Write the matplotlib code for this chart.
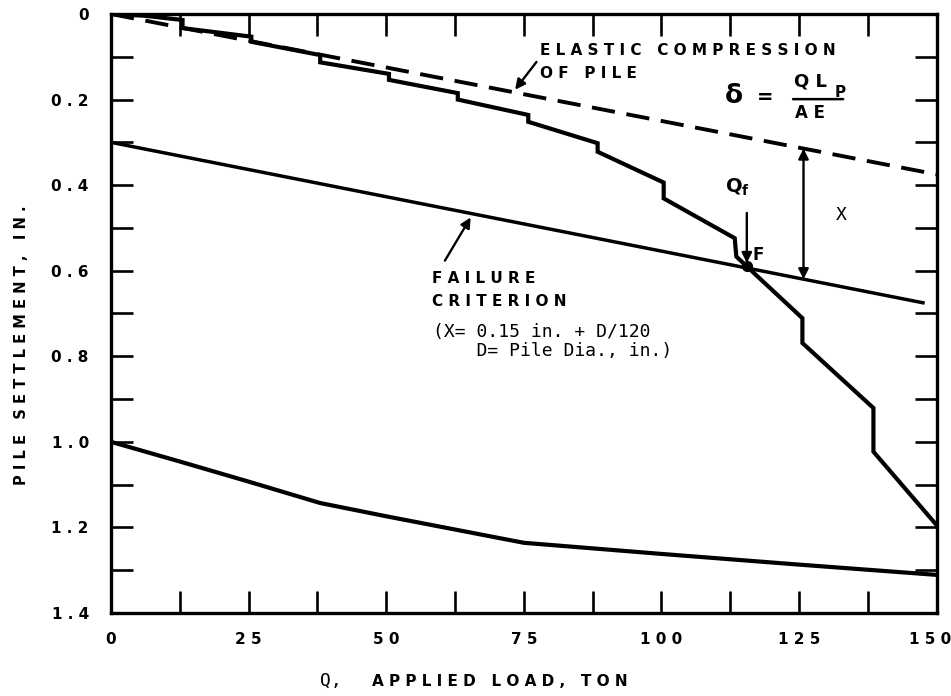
import numpy as np
import matplotlib
matplotlib.use('Agg')
import matplotlib.pyplot as plt
from matplotlib.transforms import ScaledTranslation

plt.rcParams['font.family'] = ['DejaVu Sans']

# load-settlement curve (stepped at each load increment)
load = [0, 6, 13, 13, 25.5, 25.5, 38, 38, 50.5, 50.5, 63, 63, 75.8, 75.8,
        88.4, 88.4, 100.4, 100.4, 113.3, 113.6, 115.5, 125.6, 125.6,
        138.5, 138.5, 150]
settle = [0, 0.004, 0.014, 0.033, 0.053, 0.065, 0.096, 0.113, 0.140, 0.154,
          0.185, 0.200, 0.236, 0.252, 0.302, 0.322, 0.394, 0.431, 0.524,
          0.567, 0.590, 0.711, 0.769, 0.921, 1.023, 1.195]

# elastic compression of pile, delta = QL/AE
elastic_q = [0, 150]
elastic_s = [0, 0.375]

# failure criterion line (offset X from the elastic line)
fail_q = [0, 147.5]
fail_s = [0.30, 0.675]

# lower curve
low_q = [0, 12.5, 25, 38, 50, 62.5, 75, 100, 125, 150]
low_s = [1.0, 1.046, 1.093, 1.143, 1.174, 1.205, 1.236, 1.262, 1.287, 1.311]

# failure point F
qf = 115.5
sf = 0.59
x_at = 125.8

xticks = [0, 25, 50, 75, 100, 125, 150]
xlabels = ['0', '2 5', '5 0', '7 5', '1 0 0', '1 2 5', '1 5 0']
yticks = [0, 0.2, 0.4, 0.6, 0.8, 1.0, 1.2, 1.4]
ylabels = ['0', '0 . 2', '0 . 4', '0 . 6', '0 . 8', '1 . 0', '1 . 2', '1 . 4']


def spaced(s):
    return ' '.join(s)


fig = plt.figure(figsize=(9.51, 6.96), dpi=100)
ax = fig.add_axes([0.1167, 0.1193, 0.8683, 0.8606])

ax.plot(load, settle, color='black', lw=3.0, solid_joinstyle='miter')
ax.plot(elastic_q, elastic_s, color='black', lw=2.8, dashes=(6, 3))
ax.plot(fail_q, fail_s, color='black', lw=2.5)
ax.plot(low_q, low_s, color='black', lw=3.0)
ax.plot([qf], [sf], 'o', color='black', ms=7)

ax.set_xlim(0, 150)
ax.set_ylim(1.4, 0)
for sp in ax.spines.values():
    sp.set_linewidth(2.4)

ax.set_xticks(xticks)
ax.set_xticklabels(xlabels, fontweight='bold')
ax.set_xticks(np.arange(0, 151, 12.5), minor=True)
ax.set_yticks(yticks)
ax.set_yticklabels(ylabels, fontweight='bold')
ax.set_yticks(np.arange(0, 1.41, 0.1), minor=True)
ax.tick_params(which='both', direction='in', top=True, right=True,
               width=1.9, length=16, labelsize=11)
ax.tick_params(axis='x', which='both', pad=14)
ax.tick_params(axis='y', which='both', pad=16)
last = ax.get_xticklabels()[-1]
last.set_horizontalalignment('right')
last.set_transform(last.get_transform() + ScaledTranslation(15 / 100, 0, fig.dpi_scale_trans))

lab = dict(fontsize=11, fontweight='bold', ha='left', va='center')
mono = dict(family='DejaVu Sans Mono', fontsize=13, ha='left', va='center')
arrow = dict(arrowstyle='-|>', color='black', lw=1.7, mutation_scale=15)

# elastic compression label and formula
ax.text(78, 0.086, spaced('ELASTIC') + '   ' + spaced('COMPRESSION'), **lab)
ax.text(78, 0.140, spaced('OF') + '   ' + spaced('PILE'), **lab)
ax.annotate('', xy=(73.1, 0.182), xytext=(77.6, 0.107), arrowprops=arrow)

ax.text(113.1, 0.192, 'δ', fontsize=19, fontweight='bold', ha='center', va='center')
ax.text(118.9, 0.196, '=', fontsize=14, fontweight='bold', ha='center', va='center')
ax.text(124.0, 0.158, spaced('QL'), fontsize=13, fontweight='bold', ha='left', va='center')
ax.text(131.5, 0.183, 'P', fontsize=11, fontweight='bold', ha='left', va='center')
ax.annotate('', xy=(133.0, 0.199), xytext=(123.9, 0.199),
            arrowprops=dict(arrowstyle='-', color='black', lw=1.8,
                            shrinkA=0, shrinkB=0))
ax.text(124.2, 0.232, spaced('AE'), fontsize=12, fontweight='bold', ha='left', va='center')

# offset X between the two lines
ys_top = np.interp(x_at, elastic_q, elastic_s)
ys_bot = np.interp(x_at, fail_q, fail_s)
ax.annotate('', xy=(x_at, ys_bot), xytext=(x_at, ys_top),
            arrowprops=dict(arrowstyle='<|-|>', color='black', lw=1.7,
                            mutation_scale=15, shrinkA=0, shrinkB=0))
ax.text(132.6, 0.47, 'X', family='DejaVu Sans Mono', fontsize=13,
        ha='center', va='center')

# failure load
ax.text(113.8, 0.405, r'Q$_\mathbf{f}$', fontsize=14, fontweight='bold',
        ha='center', va='center')
ax.annotate('', xy=(qf, 0.582), xytext=(qf, 0.465),
            arrowprops=dict(arrowstyle='-|>', color='black', lw=1.7,
                            mutation_scale=15, shrinkA=0, shrinkB=0))
ax.text(117.6, 0.563, 'F', fontsize=12, fontweight='bold', ha='center', va='center')

# failure criterion
ax.text(58.4, 0.619, spaced('FAILURE'), **lab)
ax.text(58.4, 0.673, spaced('CRITERION'), **lab)
ax.text(58.5, 0.743, '(X= 0.15 in. + D/120', **mono)
ax.text(58.5, 0.787, '    D= Pile Dia., in.)', **mono)
ax.annotate('', xy=(65.6, 0.47), xytext=(60.4, 0.582), arrowprops=arrow)

# axis labels
fig.text(22 / 951, 1 - 345 / 696,
         spaced('PILE') + '   ' + spaced('SETTLEMENT,') + '   ' + spaced('IN.'),
         rotation=90, fontsize=10.5, fontweight='bold', ha='center', va='center')
fig.text(331 / 951, 1 - 681 / 696, 'Q,', family='DejaVu Sans Mono',
         fontsize=13, ha='center', va='center')
fig.text(372 / 951, 1 - 681 / 696,
         spaced('APPLIED') + '   ' + spaced('LOAD,') + '   ' + spaced('TON'),
         fontsize=11, fontweight='bold', ha='left', va='center')

fig.savefig('out.png', dpi=100)
